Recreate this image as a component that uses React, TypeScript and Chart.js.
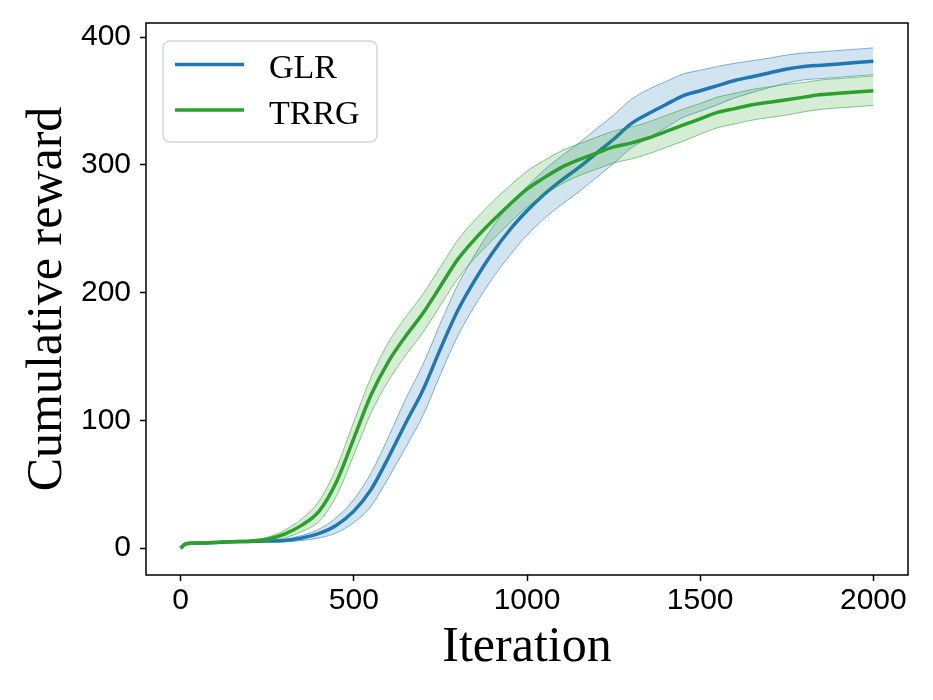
import React, { useEffect, useRef } from 'react';
import { Chart, registerables } from 'chart.js';

Chart.register(...registerables);

// ---- data ----
const iterations = [0, 15, 50, 100, 150, 200, 250, 300, 350, 400, 450, 500, 550, 600, 650, 700, 750, 800, 850, 900, 950, 1000, 1050, 1100, 1150, 1200, 1250, 1300, 1350, 1400, 1450, 1500, 1550, 1600, 1650, 1700, 1750, 1800, 1850, 1900, 1950, 2000];

const glrMean = [0, 3.5, 4, 4.5, 5, 5.3, 5.6, 6, 8, 11.5, 18, 29, 46, 71, 98, 124, 156, 186, 210, 231, 249, 264, 277, 288, 298, 309, 320, 332, 340, 347, 354, 358, 362, 366, 369, 372, 375, 377, 378, 379, 380, 381];
const glrSpread = [0.3, 0.5, 0.5, 0.5, 0.5, 0.6, 0.7, 1, 2, 3.5, 6, 9, 13, 16, 19, 20, 20, 20, 20, 20, 20, 19, 19, 19, 19, 19, 19, 19, 19, 18, 17, 16, 15, 13.5, 12.5, 11.5, 11, 10.5, 10.5, 10.5, 10.5, 10.5];

const trrgMean = [0, 3.5, 4, 4.5, 5, 5.5, 7, 11, 18, 29, 52, 86, 120, 146, 166, 184, 205, 226, 242, 256, 269, 281, 290, 298, 304, 309, 314, 317, 321, 326, 331, 336, 341, 344, 347, 349, 351, 353, 355, 356, 357, 358];
const trrgSpread = [0.3, 0.5, 0.5, 0.5, 0.5, 0.8, 1.5, 3, 5, 8, 11, 13, 14, 15, 15, 15, 15, 15, 15, 15, 14.5, 14, 13.5, 13, 12.5, 12.5, 12.5, 12.5, 12.5, 12.5, 12.5, 12, 12, 12, 12, 12, 12, 11.5, 11.5, 11.5, 11.5, 11.5];

const seriesLabels = ['GLR', 'TRRG'];
const xTicks = [0, 500, 1000, 1500, 2000];
const yTicks = [0, 100, 200, 300, 400];
const xTitle = 'Iteration';
const yTitle = 'Cumulative reward';

const BLUE = '#1f77b4';
const GREEN = '#2ca02c';

const pts = (vals: number[]) => iterations.map((x, i) => ({ x, y: vals[i] }));
const band = (mean: number[], spread: number[], sign: number) =>
  iterations.map((x, i) => ({ x, y: mean[i] + sign * spread[i] }));

const framePlugin = {
  id: 'frameAndLegend',
  afterDatasetsDraw(chart: any) {
    const { ctx, chartArea } = chart;
    const { left, right, top, bottom } = chartArea;
    ctx.save();
    ctx.strokeStyle = '#000';
    ctx.lineWidth = 1.5;
    ctx.strokeRect(left, top, right - left, bottom - top);
    ctx.restore();
  },
  afterDraw(chart: any) {
    const { ctx, chartArea } = chart;
    const items = chart.data.datasets.filter((d: any) => d.isMean);
    const bx = chartArea.left + 17;
    const by = chartArea.top + 18;
    const bw = 214;
    const bh = 101;
    const r = 7;
    ctx.save();
    ctx.beginPath();
    ctx.moveTo(bx + r, by);
    ctx.arcTo(bx + bw, by, bx + bw, by + bh, r);
    ctx.arcTo(bx + bw, by + bh, bx, by + bh, r);
    ctx.arcTo(bx, by + bh, bx, by, r);
    ctx.arcTo(bx, by, bx + bw, by, r);
    ctx.closePath();
    ctx.fillStyle = 'rgba(255,255,255,0.8)';
    ctx.fill();
    ctx.strokeStyle = 'rgba(204,204,204,0.8)';
    ctx.lineWidth = 1.5;
    ctx.stroke();
    items.forEach((d: any, i: number) => {
      const ly = by + 23.5 + i * 45.5;
      ctx.beginPath();
      ctx.moveTo(bx + 12, ly);
      ctx.lineTo(bx + 81, ly);
      ctx.strokeStyle = d.borderColor;
      ctx.lineWidth = 3.5;
      ctx.stroke();
      ctx.fillStyle = '#000';
      ctx.font = '34px "Liberation Serif", serif';
      ctx.textBaseline = 'alphabetic';
      ctx.textAlign = 'left';
      ctx.fillText(d.label, bx + 106, ly + 13.5);
    });
    ctx.restore();
  },
};

export default function App() {
  const canvasRef = useRef<HTMLCanvasElement | null>(null);

  useEffect(() => {
    document.body.style.margin = '0';
    const canvas = canvasRef.current;
    if (!canvas) return;
    const bandLine = {
      borderWidth: 1,
      pointRadius: 0,
      cubicInterpolationMode: 'monotone' as const,
    };
    const tickFont = { family: '"Liberation Sans", Arial, sans-serif', size: 30 };
    const titleFont = { family: '"Liberation Serif", serif', size: 50 };
    const chart = new Chart(canvas, {
      type: 'line',
      data: {
        datasets: [
          {
            label: seriesLabels[0] + ' upper',
            data: band(glrMean, glrSpread, 1),
            borderColor: 'rgba(31,119,180,0.55)',
            backgroundColor: 'rgba(31,119,180,0.2)',
            fill: '+1',
            order: 4,
            ...bandLine,
          },
          {
            label: seriesLabels[0] + ' lower',
            data: band(glrMean, glrSpread, -1),
            borderColor: 'rgba(31,119,180,0.55)',
            fill: false,
            order: 4,
            ...bandLine,
          },
          {
            label: seriesLabels[0],
            data: pts(glrMean),
            borderColor: BLUE,
            borderWidth: 3.5,
            pointRadius: 0,
            fill: false,
            order: 3,
            isMean: true,
            cubicInterpolationMode: 'monotone',
          } as any,
          {
            label: seriesLabels[1] + ' upper',
            data: band(trrgMean, trrgSpread, 1),
            borderColor: 'rgba(44,160,44,0.55)',
            backgroundColor: 'rgba(44,160,44,0.2)',
            fill: '+1',
            order: 2,
            ...bandLine,
          },
          {
            label: seriesLabels[1] + ' lower',
            data: band(trrgMean, trrgSpread, -1),
            borderColor: 'rgba(44,160,44,0.55)',
            fill: false,
            order: 2,
            ...bandLine,
          },
          {
            label: seriesLabels[1],
            data: pts(trrgMean),
            borderColor: GREEN,
            borderWidth: 3.5,
            pointRadius: 0,
            fill: false,
            order: 1,
            isMean: true,
            cubicInterpolationMode: 'monotone',
          } as any,
        ],
      },
      options: {
        responsive: false,
        animation: false,
        events: [],
        layout: { padding: { left: 0, right: 25, top: 23, bottom: 0 } },
        plugins: {
          legend: { display: false },
          tooltip: { enabled: false },
        },
        scales: {
          x: {
            type: 'linear',
            min: -100,
            max: 2100,
            afterFit: (s: any) => {
              s.height = 125;
              s.paddingLeft = 0;
              s.paddingRight = 0;
            },
            afterBuildTicks: (s: any) => { s.ticks = xTicks.map((v) => ({ value: v })); },
            ticks: {
              color: '#000',
              font: tickFont,
              padding: 2,
              maxRotation: 0,
              autoSkip: false,
              callback: (v: any) => String(v),
            },
            grid: {
              drawOnChartArea: false,
              drawTicks: true,
              tickLength: 6,
              tickWidth: 1.5,
              tickColor: '#000',
            },
            border: { display: false },
            title: {
              display: true,
              text: xTitle,
              color: '#000',
              font: titleFont,
              padding: { top: 0, bottom: 22 },
            },
          },
          y: {
            type: 'linear',
            min: -21,
            max: 411,
            afterFit: (s: any) => {
              s.width = 146;
              s.paddingTop = 0;
              s.paddingBottom = 0;
            },
            afterBuildTicks: (s: any) => { s.ticks = yTicks.map((v) => ({ value: v })); },
            ticks: {
              color: '#000',
              font: tickFont,
              padding: 9,
              autoSkip: false,
              callback: (v: any) => String(v),
            },
            grid: {
              drawOnChartArea: false,
              drawTicks: true,
              tickLength: 6,
              tickWidth: 1.5,
              tickColor: '#000',
            },
            border: { display: false },
            title: {
              display: true,
              text: yTitle,
              color: '#000',
              font: titleFont,
              padding: { top: 18, bottom: 18 },
            },
          },
        },
      },
      plugins: [framePlugin],
    });
    return () => chart.destroy();
  }, []);

  return (
    <div style={{ width: 933, height: 700 }}>
      <canvas ref={canvasRef} width={933} height={700} style={{ display: 'block' }} />
    </div>
  );
}
